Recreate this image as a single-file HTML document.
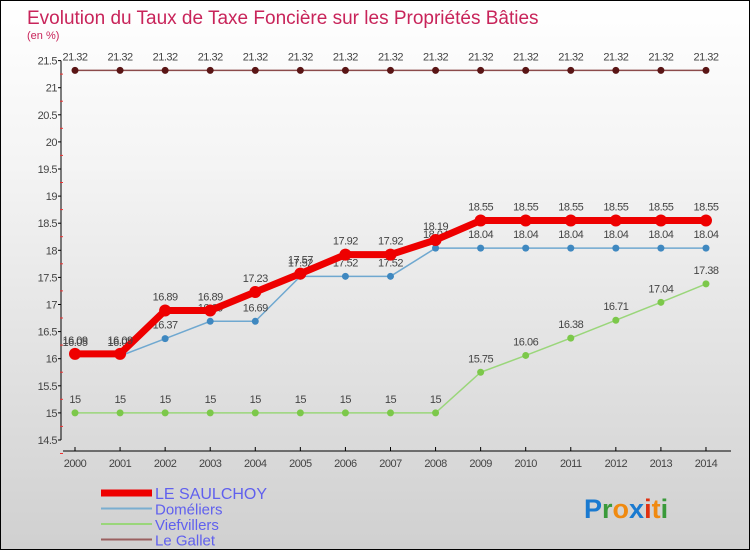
<!DOCTYPE html>
<html><head><meta charset="utf-8"><style>
body{margin:0}
#wrap{position:relative;width:748px;height:548px;border:1px solid #000;background:linear-gradient(#ffffff,#f4f4f4 30%,#d0d0d0);font-family:"Liberation Sans",sans-serif;overflow:hidden}
</style></head><body>
<div id="wrap">
<svg id="svg" width="748" height="548"></svg>
</div>
<script>
const years=[2000,2001,2002,2003,2004,2005,2006,2007,2008,2009,2010,2011,2012,2013,2014];
const saulchoy=[16.09,16.09,16.89,16.89,17.23,17.57,17.92,17.92,18.19,18.55,18.55,18.55,18.55,18.55,18.55];
const domeliers=[16.05,16.05,16.37,16.69,16.69,17.52,17.52,17.52,18.04,18.04,18.04,18.04,18.04,18.04,18.04];
const viefvillers=[15,15,15,15,15,15,15,15,15,15.75,16.06,16.38,16.71,17.04,17.38];
const gallet=[21.32,21.32,21.32,21.32,21.32,21.32,21.32,21.32,21.32,21.32,21.32,21.32,21.32,21.32,21.32];
const yTicks=[14.5,15,15.5,16,16.5,17,17.5,18,18.5,19,19.5,20,20.5,21,21.5];
const NS="http://www.w3.org/2000/svg",svg=document.getElementById('svg');
const X=i=>74+i*45.07, Y=v=>439-(v-14.5)*54.2;
function el(t,a,txt,parent){const e=document.createElementNS(NS,t);for(const k in a)e.setAttribute(k,a[k]);if(txt!==undefined)e.textContent=txt;(parent||svg).appendChild(e);return e;}
let t=el('text',{x:26,y:23,'font-size':19,fill:'#c8245a'},'Evolution du Taux de Taxe Foncière sur les Propriétés Bâties');

t=el('text',{x:26,y:38,'font-size':11,fill:'#c8245a'},'(en %)');

let a=el('line',{x1:60,y1:Y(21.5),x2:60,y2:Y(14.5),stroke:'#000'});

a=el('line',{x1:62,y1:450,x2:730,y2:450,stroke:'#000'});

yTicks.forEach(v=>{el('line',{x1:57,y1:Y(v),x2:60,y2:Y(v),stroke:'#000'});
 el('line',{x1:59,y1:Y(v)+13.5,x2:62,y2:Y(v)+13.5,stroke:'#e33'});
 const l=el('text',{x:56,y:Y(v)+4,'font-size':11,fill:'#444','text-anchor':'end','letter-spacing':'-0.5'},String(v));
 });
years.forEach((y,i)=>{el('line',{x1:X(i),y1:446,x2:X(i),y2:450,stroke:'#000'});
 const l=el('text',{x:X(i),y:466,'font-size':11,fill:'#444','text-anchor':'middle','letter-spacing':'-0.5'},String(y));
 });
function series(d,name,col,w,r,dot){
 const p=el('polyline',{points:d.map((v,i)=>X(i)+','+Y(v)).join(' '),fill:'none',stroke:col,'stroke-width':w});
 
 d.forEach((v,i)=>{const c=el('circle',{cx:X(i),cy:Y(v),r:r,fill:dot});
  
  const l=el('text',{x:X(i),y:Y(v)-10,'font-size':11,fill:'#444','text-anchor':'middle','letter-spacing':'-0.5'},String(v));
  });
}
series(gallet,'le-gallet','#8b4a4a',1.5,3.5,'#5a1515');
series(viefvillers,'viefvillers','#9ad67a',1.5,3.5,'#7cc84a');
series(domeliers,'domeliers','#6fa8d0',1.5,3.5,'#3f88c0');
series(saulchoy,'le-saulchoy','#ee0000',7,6,'#ee0000');
const leg=[['LE SAULCHOY','#ee0000',7],['Doméliers','#7aaed0',2],['Viefvillers','#9ad67a',2],['Le Gallet','#9a6060',2]];
leg.forEach((g,i)=>{const y=492+i*15.5;
 const l=el('line',{x1:100,y1:y,x2:151,y2:y,stroke:g[1],'stroke-width':g[2]});
 
 const tx=el('text',{x:154,y:y+6,'font-size':i==0?16:15,fill:'#6060ee'},g[0]);
 });
const logo=[['P','#1a7ad0'],['r','#3a9a3a'],['o','#f08a10'],['x','#1a7ad0'],['i','#e03010'],['t','#f08a10'],['i','#3a9a3a']];
const lg=el('text',{x:583,y:517,'font-size':27,'font-weight':'bold'});


logo.forEach(c=>{el('tspan',{fill:c[1]},c[0],lg);});
</script>
</body></html>
